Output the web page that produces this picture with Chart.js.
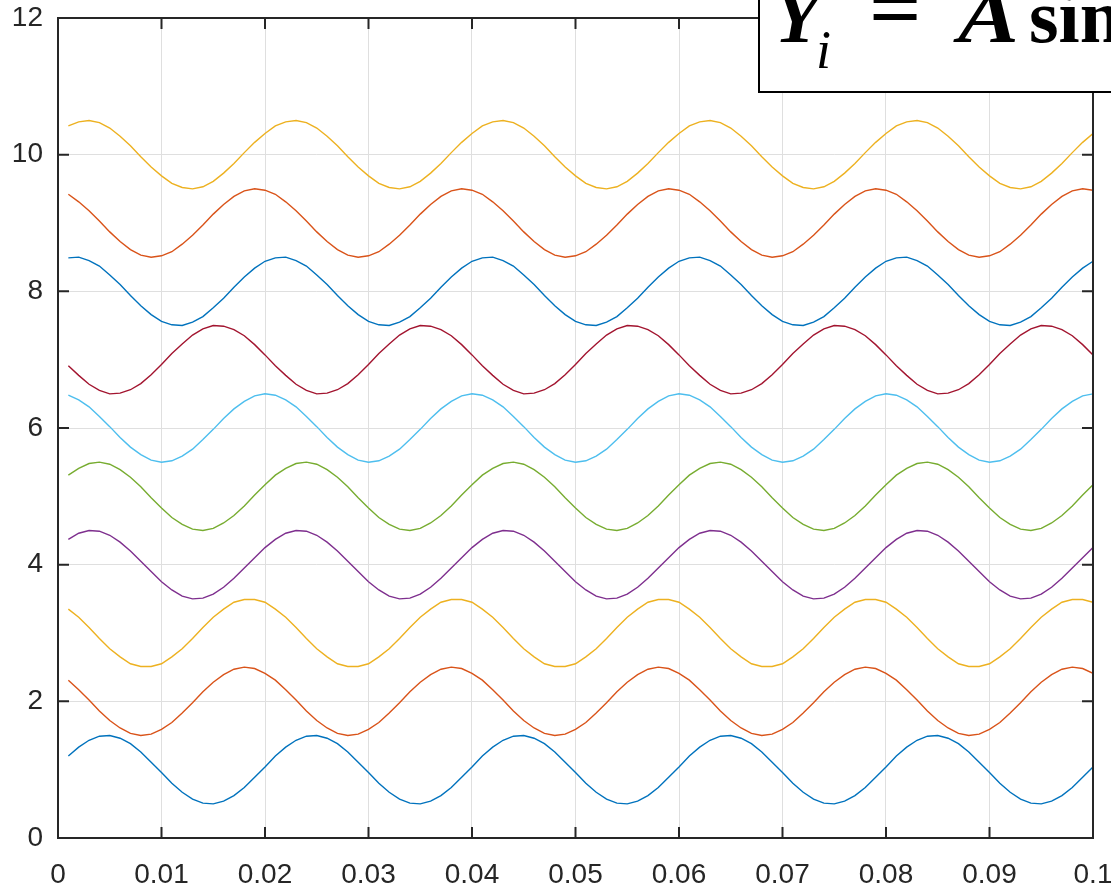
<!DOCTYPE html>
<html>
<head>
<meta charset="utf-8">
<title>Phase-shifted sine waves</title>
<script src="https://cdn.jsdelivr.net/npm/chart.js@4/dist/chart.umd.min.js"></script>
<style>
html, body { margin: 0; padding: 0; background: #fff; overflow: hidden; }
#wrap { position: relative; width: 1111px; height: 890px; overflow: hidden; }
#eqBox { position: absolute; left: 758px; top: -60px; width: 600px; height: 153px; box-sizing: border-box; border: 2px solid #000; background: #fff; }
.eq { position: absolute; white-space: nowrap; line-height: 1; font-family: 'Liberation Serif', 'Times New Roman', serif; font-weight: bold; color: #000; }
</style>
</head>
<body>
<div id="wrap">
  <canvas id="waves" width="1111" height="890"></canvas>
  <div id="eqBox"></div>
  <span class="eq" style="left:774px;top:-22px;font-size:76px;font-style:italic">Y</span>
  <span class="eq" style="left:816px;top:23px;font-size:54px;font-style:italic;font-weight:normal">i</span>
  <span class="eq" style="left:869px;top:-33px;font-size:84px;display:inline-block;transform:scaleX(1.1);transform-origin:left">=</span>
  <span class="eq" style="left:958px;top:-22px;font-size:76px;font-style:italic;display:inline-block;transform:scaleX(1.2);transform-origin:left">A</span>
  <span class="eq" style="left:1029px;top:-22px;font-size:76px">sin(ωt + φ<i>i</i>) + i</span>
</div>
<script>
// time samples (s)
const tms = [
  0.001,0.002,0.003,0.004,0.005,0.006,0.007,0.008,0.009,0.010,
  0.011,0.012,0.013,0.014,0.015,0.016,0.017,0.018,0.019,0.020,
  0.021,0.022,0.023,0.024,0.025,0.026,0.027,0.028,0.029,0.030,
  0.031,0.032,0.033,0.034,0.035,0.036,0.037,0.038,0.039,0.040,
  0.041,0.042,0.043,0.044,0.045,0.046,0.047,0.048,0.049,0.050,
  0.051,0.052,0.053,0.054,0.055,0.056,0.057,0.058,0.059,0.060,
  0.061,0.062,0.063,0.064,0.065,0.066,0.067,0.068,0.069,0.070,
  0.071,0.072,0.073,0.074,0.075,0.076,0.077,0.078,0.079,0.080,
  0.081,0.082,0.083,0.084,0.085,0.086,0.087,0.088,0.089,0.090,
  0.091,0.092,0.093,0.094,0.095,0.096,0.097,0.098,0.099,0.100
];

// one row = one 0.02 s period
const wave1 = [
  1.20,1.33,1.43,1.49,1.50,1.46,1.38,1.26,1.11,0.96,0.80,0.67,0.57,0.51,0.50,0.54,0.62,0.74,0.89,1.04,
  1.20,1.33,1.43,1.49,1.50,1.46,1.38,1.26,1.11,0.96,0.80,0.67,0.57,0.51,0.50,0.54,0.62,0.74,0.89,1.04,
  1.20,1.33,1.43,1.49,1.50,1.46,1.38,1.26,1.11,0.96,0.80,0.67,0.57,0.51,0.50,0.54,0.62,0.74,0.89,1.04,
  1.20,1.33,1.43,1.49,1.50,1.46,1.38,1.26,1.11,0.96,0.80,0.67,0.57,0.51,0.50,0.54,0.62,0.74,0.89,1.04,
  1.20,1.33,1.43,1.49,1.50,1.46,1.38,1.26,1.11,0.96,0.80,0.67,0.57,0.51,0.50,0.54,0.62,0.74,0.89,1.04
];
const wave2 = [
  2.31,2.17,2.02,1.86,1.72,1.61,1.53,1.50,1.52,1.59,1.69,1.83,1.98,2.14,2.28,2.39,2.47,2.50,2.48,2.41,
  2.31,2.17,2.02,1.86,1.72,1.61,1.53,1.50,1.52,1.59,1.69,1.83,1.98,2.14,2.28,2.39,2.47,2.50,2.48,2.41,
  2.31,2.17,2.02,1.86,1.72,1.61,1.53,1.50,1.52,1.59,1.69,1.83,1.98,2.14,2.28,2.39,2.47,2.50,2.48,2.41,
  2.31,2.17,2.02,1.86,1.72,1.61,1.53,1.50,1.52,1.59,1.69,1.83,1.98,2.14,2.28,2.39,2.47,2.50,2.48,2.41,
  2.31,2.17,2.02,1.86,1.72,1.61,1.53,1.50,1.52,1.59,1.69,1.83,1.98,2.14,2.28,2.39,2.47,2.50,2.48,2.41
];
const wave3 = [
  3.35,3.23,3.08,2.92,2.77,2.65,2.55,2.51,2.51,2.55,2.65,2.77,2.92,3.08,3.23,3.35,3.45,3.49,3.49,3.45,
  3.35,3.23,3.08,2.92,2.77,2.65,2.55,2.51,2.51,2.55,2.65,2.77,2.92,3.08,3.23,3.35,3.45,3.49,3.49,3.45,
  3.35,3.23,3.08,2.92,2.77,2.65,2.55,2.51,2.51,2.55,2.65,2.77,2.92,3.08,3.23,3.35,3.45,3.49,3.49,3.45,
  3.35,3.23,3.08,2.92,2.77,2.65,2.55,2.51,2.51,2.55,2.65,2.77,2.92,3.08,3.23,3.35,3.45,3.49,3.49,3.45,
  3.35,3.23,3.08,2.92,2.77,2.65,2.55,2.51,2.51,2.55,2.65,2.77,2.92,3.08,3.23,3.35,3.45,3.49,3.49,3.45
];
const wave4 = [
  4.37,4.46,4.50,4.49,4.43,4.33,4.20,4.05,3.90,3.75,3.63,3.54,3.50,3.51,3.57,3.67,3.80,3.95,4.10,4.25,
  4.37,4.46,4.50,4.49,4.43,4.33,4.20,4.05,3.90,3.75,3.63,3.54,3.50,3.51,3.57,3.67,3.80,3.95,4.10,4.25,
  4.37,4.46,4.50,4.49,4.43,4.33,4.20,4.05,3.90,3.75,3.63,3.54,3.50,3.51,3.57,3.67,3.80,3.95,4.10,4.25,
  4.37,4.46,4.50,4.49,4.43,4.33,4.20,4.05,3.90,3.75,3.63,3.54,3.50,3.51,3.57,3.67,3.80,3.95,4.10,4.25,
  4.37,4.46,4.50,4.49,4.43,4.33,4.20,4.05,3.90,3.75,3.63,3.54,3.50,3.51,3.57,3.67,3.80,3.95,4.10,4.25
];
const wave5 = [
  5.31,5.41,5.48,5.50,5.47,5.39,5.28,5.14,4.98,4.83,4.69,4.59,4.52,4.50,4.53,4.61,4.72,4.86,5.02,5.17,
  5.31,5.41,5.48,5.50,5.47,5.39,5.28,5.14,4.98,4.83,4.69,4.59,4.52,4.50,4.53,4.61,4.72,4.86,5.02,5.17,
  5.31,5.41,5.48,5.50,5.47,5.39,5.28,5.14,4.98,4.83,4.69,4.59,4.52,4.50,4.53,4.61,4.72,4.86,5.02,5.17,
  5.31,5.41,5.48,5.50,5.47,5.39,5.28,5.14,4.98,4.83,4.69,4.59,4.52,4.50,4.53,4.61,4.72,4.86,5.02,5.17,
  5.31,5.41,5.48,5.50,5.47,5.39,5.28,5.14,4.98,4.83,4.69,4.59,4.52,4.50,4.53,4.61,4.72,4.86,5.02,5.17
];
const wave6 = [
  6.48,6.41,6.31,6.17,6.02,5.86,5.72,5.61,5.53,5.50,5.52,5.59,5.69,5.83,5.98,6.14,6.28,6.39,6.47,6.50,
  6.48,6.41,6.31,6.17,6.02,5.86,5.72,5.61,5.53,5.50,5.52,5.59,5.69,5.83,5.98,6.14,6.28,6.39,6.47,6.50,
  6.48,6.41,6.31,6.17,6.02,5.86,5.72,5.61,5.53,5.50,5.52,5.59,5.69,5.83,5.98,6.14,6.28,6.39,6.47,6.50,
  6.48,6.41,6.31,6.17,6.02,5.86,5.72,5.61,5.53,5.50,5.52,5.59,5.69,5.83,5.98,6.14,6.28,6.39,6.47,6.50,
  6.48,6.41,6.31,6.17,6.02,5.86,5.72,5.61,5.53,5.50,5.52,5.59,5.69,5.83,5.98,6.14,6.28,6.39,6.47,6.50
];
const wave7 = [
  6.91,6.77,6.64,6.55,6.50,6.51,6.56,6.65,6.78,6.93,7.09,7.23,7.36,7.45,7.50,7.49,7.44,7.35,7.22,7.07,
  6.91,6.77,6.64,6.55,6.50,6.51,6.56,6.65,6.78,6.93,7.09,7.23,7.36,7.45,7.50,7.49,7.44,7.35,7.22,7.07,
  6.91,6.77,6.64,6.55,6.50,6.51,6.56,6.65,6.78,6.93,7.09,7.23,7.36,7.45,7.50,7.49,7.44,7.35,7.22,7.07,
  6.91,6.77,6.64,6.55,6.50,6.51,6.56,6.65,6.78,6.93,7.09,7.23,7.36,7.45,7.50,7.49,7.44,7.35,7.22,7.07,
  6.91,6.77,6.64,6.55,6.50,6.51,6.56,6.65,6.78,6.93,7.09,7.23,7.36,7.45,7.50,7.49,7.44,7.35,7.22,7.07
];
const wave8 = [
  8.49,8.50,8.45,8.37,8.24,8.10,7.94,7.79,7.66,7.56,7.51,7.50,7.55,7.63,7.76,7.90,8.06,8.21,8.34,8.44,
  8.49,8.50,8.45,8.37,8.24,8.10,7.94,7.79,7.66,7.56,7.51,7.50,7.55,7.63,7.76,7.90,8.06,8.21,8.34,8.44,
  8.49,8.50,8.45,8.37,8.24,8.10,7.94,7.79,7.66,7.56,7.51,7.50,7.55,7.63,7.76,7.90,8.06,8.21,8.34,8.44,
  8.49,8.50,8.45,8.37,8.24,8.10,7.94,7.79,7.66,7.56,7.51,7.50,7.55,7.63,7.76,7.90,8.06,8.21,8.34,8.44,
  8.49,8.50,8.45,8.37,8.24,8.10,7.94,7.79,7.66,7.56,7.51,7.50,7.55,7.63,7.76,7.90,8.06,8.21,8.34,8.44
];
const wave9 = [
  9.42,9.31,9.18,9.03,8.87,8.73,8.61,8.53,8.50,8.52,8.58,8.69,8.82,8.97,9.13,9.27,9.39,9.47,9.50,9.48,
  9.42,9.31,9.18,9.03,8.87,8.73,8.61,8.53,8.50,8.52,8.58,8.69,8.82,8.97,9.13,9.27,9.39,9.47,9.50,9.48,
  9.42,9.31,9.18,9.03,8.87,8.73,8.61,8.53,8.50,8.52,8.58,8.69,8.82,8.97,9.13,9.27,9.39,9.47,9.50,9.48,
  9.42,9.31,9.18,9.03,8.87,8.73,8.61,8.53,8.50,8.52,8.58,8.69,8.82,8.97,9.13,9.27,9.39,9.47,9.50,9.48,
  9.42,9.31,9.18,9.03,8.87,8.73,8.61,8.53,8.50,8.52,8.58,8.69,8.82,8.97,9.13,9.27,9.39,9.47,9.50,9.48
];
const wave10 = [
  10.42,10.48,10.50,10.47,10.39,10.27,10.13,9.97,9.82,9.69,9.58,9.52,9.50,9.53,9.61,9.73,9.87,10.03,10.18,10.31,
  10.42,10.48,10.50,10.47,10.39,10.27,10.13,9.97,9.82,9.69,9.58,9.52,9.50,9.53,9.61,9.73,9.87,10.03,10.18,10.31,
  10.42,10.48,10.50,10.47,10.39,10.27,10.13,9.97,9.82,9.69,9.58,9.52,9.50,9.53,9.61,9.73,9.87,10.03,10.18,10.31,
  10.42,10.48,10.50,10.47,10.39,10.27,10.13,9.97,9.82,9.69,9.58,9.52,9.50,9.53,9.61,9.73,9.87,10.03,10.18,10.31,
  10.42,10.48,10.50,10.47,10.39,10.27,10.13,9.97,9.82,9.69,9.58,9.52,9.50,9.53,9.61,9.73,9.87,10.03,10.18,10.31
];

// axis ticks
const xTicks = [0, 0.01, 0.02, 0.03, 0.04, 0.05, 0.06, 0.07, 0.08, 0.09, 0.1];
const xTickLabels = ['0', '0.01', '0.02', '0.03', '0.04', '0.05', '0.06', '0.07', '0.08', '0.09', '0.1'];
const yTicks = [0, 2, 4, 6, 8, 10, 12];
const yTickLabels = ['0', '2', '4', '6', '8', '10', '12'];

const series = [wave1, wave2, wave3, wave4, wave5, wave6, wave7, wave8, wave9, wave10];

// default MATLAB line colour order, wrapping after seven
const lineColors = ['#0072BD', '#D95319', '#EDB120', '#7E2F8E', '#77AC30', '#4DBEEE', '#A2142F', '#0072BD', '#D95319', '#EDB120'];

const AXIS_COLOR = '#262626';
const tickFont = { family: "'Liberation Sans', Arial, sans-serif", size: 28 };

// box around the plot with inward tick marks on all four sides
const axesBox = {
  id: 'axesBox',
  afterDatasetsDraw(chart) {
    const { ctx, chartArea: a, scales: { x, y } } = chart;
    const len = 11;
    ctx.save();
    ctx.strokeStyle = AXIS_COLOR;
    ctx.lineWidth = 2;
    ctx.beginPath();
    xTicks.forEach(v => {
      const px = x.getPixelForValue(v);
      ctx.moveTo(px, a.bottom); ctx.lineTo(px, a.bottom - len);
      ctx.moveTo(px, a.top); ctx.lineTo(px, a.top + len);
    });
    yTicks.forEach(v => {
      const py = y.getPixelForValue(v);
      ctx.moveTo(a.left, py); ctx.lineTo(a.left + len, py);
      ctx.moveTo(a.right, py); ctx.lineTo(a.right - len, py);
    });
    ctx.stroke();
    ctx.strokeRect(a.left, a.top, a.right - a.left, a.bottom - a.top);
    ctx.restore();
  }
};

const ctx = document.getElementById('waves').getContext('2d');

new Chart(ctx, {
  type: 'line',
  data: {
    datasets: series.map((s, i) => ({
      data: tms.map((t, k) => ({ x: t, y: s[k] })),
      borderColor: lineColors[i],
      backgroundColor: lineColors[i],
      borderWidth: 1.4,
      pointRadius: 0,
      fill: false,
      tension: 0
    }))
  },
  options: {
    responsive: false,
    animation: false,
    devicePixelRatio: 1,
    layout: { padding: { top: 18, right: 18, left: 0, bottom: 0 } },
    plugins: { legend: { display: false }, tooltip: { enabled: false } },
    scales: {
      x: {
        type: 'linear',
        min: 0,
        max: 0.1,
        afterBuildTicks: s => { s.ticks = xTicks.map(v => ({ value: v })); },
        afterFit: s => { s.height = 52; s.paddingLeft = 0; s.paddingRight = 0; },
        grid: { color: '#dfdfdf', lineWidth: 1, drawTicks: false },
        border: { display: false },
        ticks: {
          autoSkip: false, maxRotation: 0, minRotation: 0, padding: 20,
          color: AXIS_COLOR, font: tickFont,
          callback: (v, i) => xTickLabels[i]
        }
      },
      y: {
        min: 0,
        max: 12,
        afterBuildTicks: s => { s.ticks = yTicks.map(v => ({ value: v })); },
        afterFit: s => { s.width = 58; s.paddingTop = 0; s.paddingBottom = 0; },
        grid: { color: '#dfdfdf', lineWidth: 1, drawTicks: false },
        border: { display: false },
        ticks: {
          autoSkip: false, padding: 15,
          color: AXIS_COLOR, font: tickFont,
          callback: (v, i) => yTickLabels[i]
        }
      }
    }
  },
  plugins: [axesBox]
});
</script>
</body>
</html>
